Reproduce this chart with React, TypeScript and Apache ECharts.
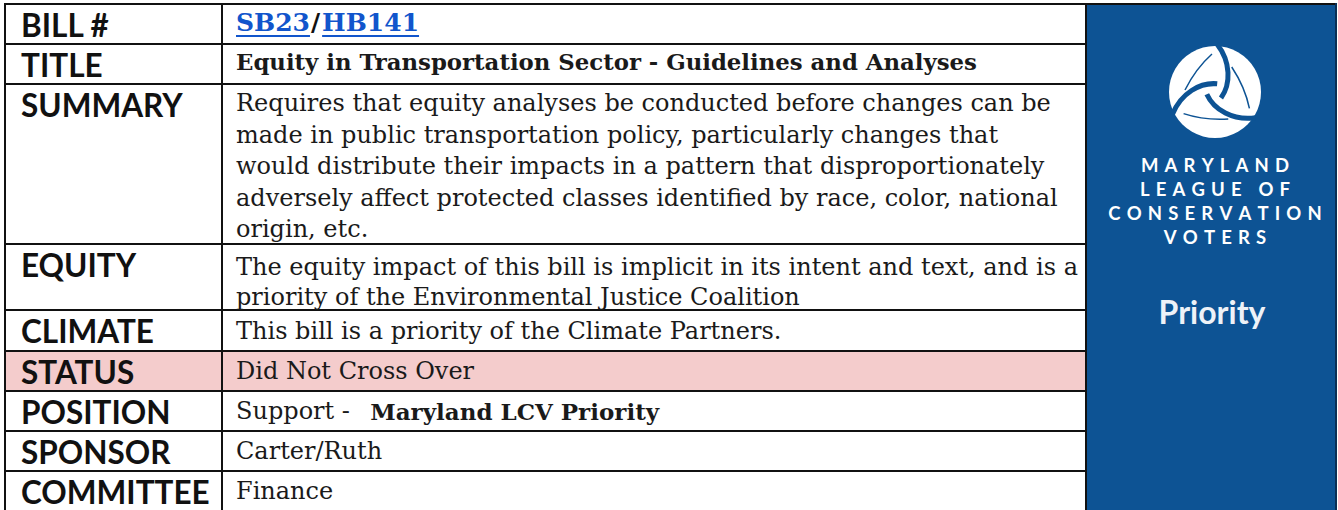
import React, { useEffect, useRef } from "react";
import * as echarts from "echarts";

const rowLabels = ["BILL #", "TITLE", "SUMMARY", "EQUITY", "CLIMATE", "STATUS", "POSITION", "SPONSOR", "COMMITTEE"];
const billNumbers = ["SB23", "HB141"];
const titleText = "Equity in Transportation Sector - Guidelines and Analyses";
const summaryLines = [
  "Requires that equity analyses be conducted before changes can be",
  "made in public transportation policy, particularly changes that",
  "would distribute their impacts in a pattern that disproportionately",
  "adversely affect protected classes identified by race, color, national",
  "origin, etc.",
];
const equityLines = [
  "The equity impact of this bill is implicit in its intent and text, and is a",
  "priority of the Environmental Justice Coalition",
];
const climateText = "This bill is a priority of the Climate Partners.";
const statusText = "Did Not Cross Over";
const positionPrefix = "Support - ";
const positionBold = "Maryland LCV Priority";
const sponsorText = "Carter/Ruth";
const committeeText = "Finance";
const logoLines = ["MARYLAND", "LEAGUE OF", "CONSERVATION", "VOTERS"];
const badgeText = "Priority";

// layout
const ROW_Y = [4, 44, 84, 244, 310, 351, 391, 431, 471, 511];
const X_LEFT = 5;
const X_DIV = 222;
const X_RIGHT = 1086;
const X_END = 1336;
const LABEL_X = 21;
const TEXT_X = 236;
const SERIF = "'DejaVu Serif', 'Liberation Serif', serif";
const SANS = "Lato, 'Noto Sans', sans-serif";
const SERIF_SIZE = 24;
const LABEL_SIZE = 31.5;
const BLUE = "#0d5394";
const LINK = "#1155cc";
const PINK = "#f4cccc";
const INK = "#111111";

function spaced(s: string) {
  return s
    .split(" ")
    .map((w) => w.split("").join("\u2004"))
    .join(" \u2004\u2004");
}

export default function App() {
  const ref = useRef<HTMLDivElement>(null);
  useEffect(() => {
    document.body.style.margin = "0";
    const chart = echarts.init(ref.current!, null, { renderer: "svg" });
    const ctx = document.createElement("canvas").getContext("2d")!;
    const measure = (t: string, font: string) => {
      ctx.font = font;
      return ctx.measureText(t).width;
    };
    const els: any[] = [];

    // status row background
    els.push({ type: "rect", shape: { x: X_LEFT, y: ROW_Y[5], width: X_RIGHT - X_LEFT, height: ROW_Y[6] - ROW_Y[5] }, style: { fill: PINK } });

    // blue panel
    els.push({ type: "rect", shape: { x: X_RIGHT, y: ROW_Y[0], width: X_END - X_RIGHT, height: 510 - ROW_Y[0] }, style: { fill: BLUE } });

    // grid lines
    for (let i = 0; i < ROW_Y.length - 1; i++) {
      els.push({ type: "line", shape: { x1: X_LEFT - 1, y1: ROW_Y[i], x2: X_RIGHT, y2: ROW_Y[i] }, style: { stroke: INK, lineWidth: 2 } });
    }
    els.push({ type: "line", shape: { x1: X_RIGHT, y1: ROW_Y[0], x2: X_END + 1, y2: ROW_Y[0] }, style: { stroke: INK, lineWidth: 2 } });
    [X_LEFT, X_DIV, X_RIGHT].forEach((x) => {
      els.push({ type: "line", shape: { x1: x, y1: ROW_Y[0] - 1, x2: x, y2: 511 }, style: { stroke: INK, lineWidth: 2 } });
    });
    els.push({ type: "line", shape: { x1: X_END, y1: ROW_Y[0] - 1, x2: X_END, y2: 511 }, style: { stroke: "#0a2f55", lineWidth: 2 } });

    // labels
    rowLabels.forEach((lab, i) => {
      els.push({
        type: "text",
        x: LABEL_X,
        y: ROW_Y[i] + 21,
        style: { text: lab, font: `bold ${LABEL_SIZE}px ${SANS}`, fill: INK, textVerticalAlign: "middle" },
      });
    });

    const serif = `${SERIF_SIZE}px ${SERIF}`;
    const addText = (t: string, x: number, y: number, font: string, fill = "#1a1a1a") =>
      els.push({ type: "text", x, y, style: { text: t, font, fill, textVerticalAlign: "middle" } });

    // bill numbers
    const billFont = `bold 25px ${SERIF}`;
    let bx = TEXT_X;
    const by = 22;
    billNumbers.forEach((b, i) => {
      const w = measure(b, billFont);
      addText(b, bx, by, billFont, LINK);
      els.push({ type: "line", shape: { x1: bx, y1: by + 14, x2: bx + w, y2: by + 14 }, style: { stroke: LINK, lineWidth: 2 } });
      bx += w;
      if (i < billNumbers.length - 1) {
        addText("/", bx + 1, by, billFont, INK);
        bx += measure("/", billFont) + 3;
      }
    });

    addText(titleText, TEXT_X, 62, `bold 22.8px ${SERIF}`);
    summaryLines.forEach((l, i) => addText(l, TEXT_X, 103 + i * 31.6, serif));
    equityLines.forEach((l, i) => addText(l, TEXT_X, 267 + i * 30, serif));
    addText(climateText, TEXT_X, 331, serif);
    addText(statusText, TEXT_X, 371, serif);
    addText(positionPrefix, TEXT_X, 411, serif);
    addText(positionBold, TEXT_X + measure(positionPrefix + " ", serif) + 5, 411, `bold 23px ${SERIF}`);
    addText(sponsorText, TEXT_X, 451, serif);
    addText(committeeText, TEXT_X, 491, serif);

    // logo
    const cx = 1215, cy = 92, R = 46;
    const gaps: any[] = [];
    [0, 120, 240].forEach((deg) => {
      gaps.push({
        type: "group",
        rotation: (-deg * Math.PI) / 180,
        children: [
          {
            type: "bezierCurve",
            shape: { x1: 2, y1: -R - 2, cpx1: 16, cpy1: -30, cpx2: 16, cpy2: -8, x2: 6, y2: 6 },
            style: { stroke: BLUE, lineWidth: 5, fill: null },
          },
          {
            type: "bezierCurve",
            shape: { x1: -30, y1: -2, cpx1: -22, cpy1: -18, cpx2: -12, cpy2: -30, x2: -3, y2: -38 },
            style: { stroke: BLUE, lineWidth: 1.5, fill: null },
          },
        ],
      });
    });
    els.push({
      type: "group",
      x: cx,
      y: cy,
      children: [{ type: "circle", shape: { cx: 0, cy: 0, r: R }, style: { fill: "#ffffff" } }, ...gaps],
    });

    const logoFont = `bold 18.5px ${SANS}`;
    logoLines.forEach((l, i) => {
      els.push({
        type: "text",
        x: 1215,
        y: 165 + i * 24,
        style: { text: spaced(l), font: logoFont, fill: "#ffffff", textAlign: "center", textVerticalAlign: "middle" },
      });
    });
    els.push({
      type: "text",
      x: 1212,
      y: 311,
      style: { text: badgeText, font: `bold 32px ${SANS}`, fill: "#eef2f8", textAlign: "center", textVerticalAlign: "middle" },
    });

    chart.setOption({ animation: false, graphic: { elements: els } });
    return () => chart.dispose();
  }, []);
  return <div ref={ref} style={{ width: 1338, height: 510 }} />;
}
